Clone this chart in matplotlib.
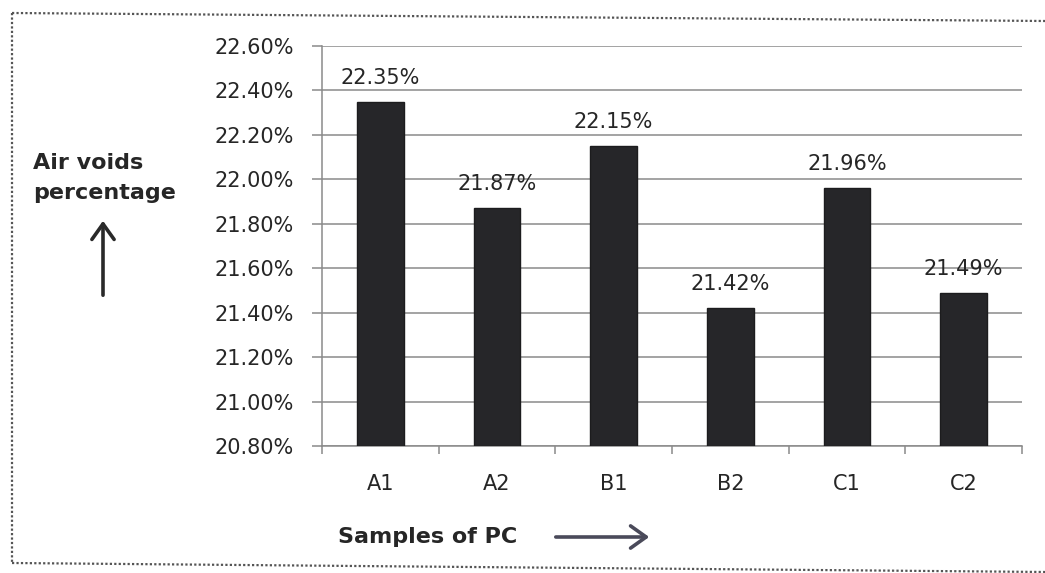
import matplotlib
matplotlib.use("Agg")
import matplotlib.pyplot as plt
from matplotlib.lines import Line2D
from matplotlib.patches import FancyArrowPatch
from matplotlib.ticker import FuncFormatter, MultipleLocator

samples = ["A1", "A2", "B1", "B2", "C1", "C2"]
air_voids = [22.35, 21.87, 22.15, 21.42, 21.96, 21.49]
y_min, y_max, y_step = 20.80, 22.60, 0.20

plt.rcParams["font.family"] = ["DejaVu Sans"]
text_color = "#262626"
W, H = 1045, 573


def fx(px):
    return px / W


def fy(py):
    return 1 - py / H


fig = plt.figure(figsize=(W / 100, H / 100), dpi=100)
fig.patch.set_facecolor("white")

# dotted frame around the chart (open on the right)
frame_style = dict(transform=fig.transFigure, color="#555555",
                   linewidth=1.6, linestyle=(0, (1, 1)))
fig.add_artist(Line2D([fx(12), fx(1045)], [fy(13), fy(21)], **frame_style))
fig.add_artist(Line2D([fx(12), fx(1045)], [fy(563), fy(572)], **frame_style))
fig.add_artist(Line2D([fx(12), fx(12)], [fy(13), fy(563)], **frame_style))

ax = fig.add_axes([fx(322), fy(446), 700 / W, 400 / H])
x = list(range(len(samples)))
ax.bar(x, [v - y_min for v in air_voids], bottom=y_min, width=0.4,
       color="#262629", edgecolor="#1c1c1e", zorder=3)

ax.set_xlim(-0.5, len(samples) - 0.5)
ax.set_ylim(y_min, y_max)
ax.yaxis.set_major_locator(MultipleLocator(y_step))
ax.yaxis.set_major_formatter(FuncFormatter(lambda v, _: f"{v:.2f}%"))
ax.grid(axis="y", color="#8a8a8a", linewidth=1.1, zorder=0)
ax.set_axisbelow(True)

for side in ("top", "right"):
    ax.spines[side].set_visible(False)
for side in ("left", "bottom"):
    ax.spines[side].set_color("#8a8a8a")
    ax.spines[side].set_linewidth(1.1)

ax.tick_params(axis="y", length=7, width=1.1, color="#8a8a8a",
               labelsize=15, labelcolor=text_color, pad=13)
ax.set_xticks(x)
ax.set_xticklabels(samples)
ax.tick_params(axis="x", length=0, labelsize=15, labelcolor=text_color, pad=20)
ax.set_xticks([i + 0.5 for i in range(-1, len(samples))], minor=True)
ax.tick_params(axis="x", which="minor", length=6, width=1.1, color="#8a8a8a")

for xi, v in zip(x, air_voids):
    ax.annotate(f"{v:.2f}%", (xi, v), xytext=(0, 10), textcoords="offset points",
                ha="center", va="bottom", fontsize=15, color=text_color)

fig.text(fx(33), fy(178), "Air voids\npercentage", ha="left", va="center",
         fontsize=16, fontweight="bold", color=text_color, linespacing=1.6)
fig.add_artist(FancyArrowPatch((fx(103), fy(298)), (fx(103), fy(218)),
                               transform=fig.transFigure,
                               arrowstyle="->,head_width=5,head_length=7",
                               color="#2a2a2a", linewidth=2.6, mutation_scale=1.6))

fig.text(fx(338), fy(537), "Samples of PC", ha="left", va="center",
         fontsize=16, fontweight="bold", color=text_color)
fig.add_artist(FancyArrowPatch((fx(553), fy(537)), (fx(652), fy(537)),
                               transform=fig.transFigure,
                               arrowstyle="->,head_width=5,head_length=7",
                               color="#4a4a5a", linewidth=2.6, mutation_scale=1.6))

fig.savefig("out.png", dpi=100, facecolor="white")
